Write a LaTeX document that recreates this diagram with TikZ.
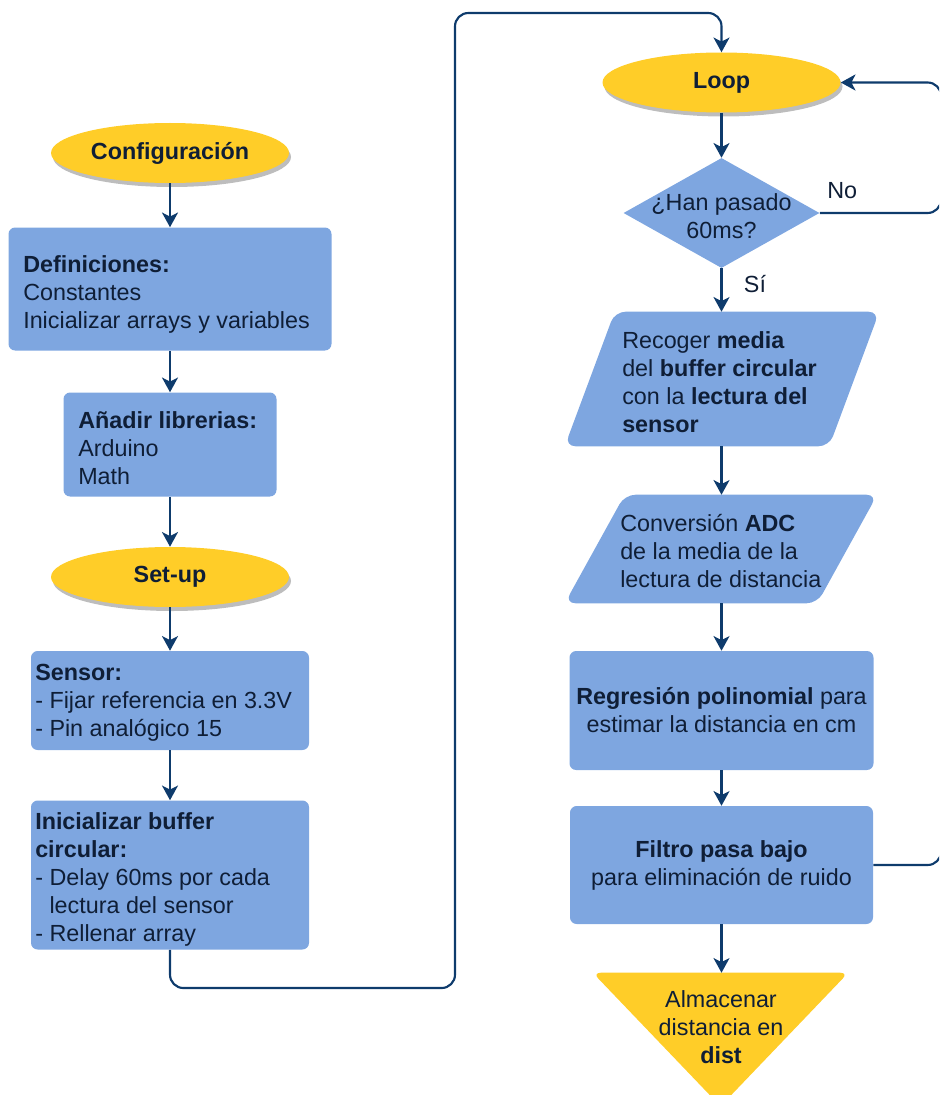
\documentclass[tikz,border=0pt]{standalone}
\usepackage{fontspec}
\setmainfont{Liberation Sans}
\usetikzlibrary{shapes.geometric,arrows.meta}
\definecolor{boxblue}{HTML}{7EA6E0}
\definecolor{termyellow}{HTML}{FFCD28}
\definecolor{linec}{HTML}{0E3B6C}
\definecolor{textc}{HTML}{0F1E36}
\definecolor{shadowc}{HTML}{BDBDBD}

\begin{document}
\begin{tikzpicture}[x=0.75pt,y=-0.75pt,
  sz/.style 2 args={minimum width=#1*0.75pt, minimum height=#2*0.75pt},
  txt/.style={text=textc, inner sep=0pt, font=\fontsize{17.5}{21}\selectfont},
  proc/.style={fill=boxblue, rounded corners=5pt, inner sep=0pt, txt},
  term/.style={ellipse, fill=termyellow, inner sep=0pt, txt, font=\bfseries\fontsize{17.5}{21}\selectfont,
    preaction={fill=shadowc, transform canvas={xshift=1.5pt,yshift=-3pt}}},
  decision/.style={diamond, fill=boxblue, inner sep=0pt},
  hidden/.style={inner sep=0pt},
  arr/.style={draw=linec, line width=1.6pt, rounded corners=10pt,
    -{Stealth[length=11pt,width=12pt,inset=3pt]}},
  link/.style={draw=linec, line width=1.6pt, rounded corners=10pt},
]
\path[use as bounding box, clip] (0,0) rectangle (939,1095);

% ---------- setup column ----------
\node[term, sz={238}{60}] (conf) at (170,153) {Configuración};
\node[proc, sz={323}{123}] (def) at (170,289) {};
\node[txt, anchor=west, align=left] (def-t) at (23,294)
  {\textbf{Definiciones:}\\Constantes\\Inicializar arrays y variables};
\node[proc, sz={213}{104}] (lib) at (170,444.5) {};
\node[txt, anchor=west, align=left] (lib-t) at (78,448)
  {\textbf{Añadir librerias:}\\Arduino\\Math};
\node[term, sz={238}{60}] (setup) at (170,577) {Set-up};
\node[proc, sz={278}{99}] (sen) at (170,700.5) {};
\node[txt, anchor=west, align=left] (sen-t) at (35,703)
  {\textbf{Sensor:}\\- Fijar referencia en 3.3V\\- Pin analógico 15};
\node[proc, sz={278}{149}] (ini) at (170,875) {};
\node[txt, anchor=west, align=left] (ini-t) at (35,879)
  {\textbf{Inicializar buffer}\\\textbf{circular:}\\- Delay 60ms por cada\\\hphantom{-} lectura del sensor\\- Rellenar array};

% ---------- loop column ----------
\node[term, sz={238}{60}] (loop) at (721.5,82.5) {Loop};
\node[decision, sz={196}{110}] (dia) at (721.5,213) {};
\node[txt, align=center] (dia-t) at (721.5,216.5) {¿Han pasado\\60ms?};

\node[hidden, sz={314}{134}] (rec) at (722,379) {};
\fill[boxblue, rounded corners=8pt] ([xshift=37.5pt]rec.north west) -- (rec.north east)
  -- ([xshift=-37.5pt]rec.south east) -- (rec.south west) -- cycle;
\node[txt, anchor=west, align=left] (rec-t) at (622,382)
  {Recoger \textbf{media}\\del \textbf{buffer circular}\\con la \textbf{lectura del}\\\textbf{sensor}};

\node[hidden, sz={312}{108}] (adc) at (721,549) {};
\fill[boxblue, rounded corners=8pt] ([xshift=45pt]adc.north west) -- (adc.north east)
  -- ([xshift=-45pt]adc.south east) -- (adc.south west) -- cycle;
\node[txt, anchor=west, align=left] (adc-t) at (620,551)
  {Conversión \textbf{ADC}\\de la media de la\\lectura de distancia};

\node[proc, sz={304}{119}, align=center] (reg) at (721.5,710.5)
  {\textbf{Regresión polinomial} para\\estimar la distancia en cm};
\node[proc, sz={303}{118}, align=center] (fil) at (721.5,865)
  {\textbf{Filtro pasa bajo}\\para eliminación de ruido};

\node[hidden, sz={255}{133}] (store) at (720.5,1039.5) {};
\fill[termyellow, rounded corners=6pt] (store.north west) -- (store.north east) -- (store.south) -- cycle;
\node[txt, align=center] (store-t) at (721,1027) {Almacenar\\distancia en\\\textbf{dist}};

% ---------- labels ----------
\node[txt, anchor=west] (no) at (827,191) {No};
\node[txt] (si) at (755,284) {Sí};

% ---------- connectors ----------
\draw[arr] (conf) -- (def);
\draw[arr] (def) -- (lib);
\draw[arr] (lib) -- (setup);
\draw[arr] (setup) -- (sen);
\draw[arr] (sen) -- (ini);
\draw[arr] (ini.south) |- (455,988) -- (455,13) -| (loop.north);
\draw[arr] (loop) -- (dia);
\draw[arr] (dia.south) -- (rec.north -| dia.south);
\draw[arr] (rec.south -| dia.south) -- (adc.north -| dia.south);
\draw[arr] (adc.south -| dia.south) -- (reg.north -| dia.south);
\draw[arr] (reg) -- (fil);
\draw[arr] (fil.south) -- (store.north -| fil.south);
\draw[arr] (dia.east) -- (941,213) |- (loop.east);
\draw[link] (fil.east) -| (941,300);
\end{tikzpicture}
\end{document}
